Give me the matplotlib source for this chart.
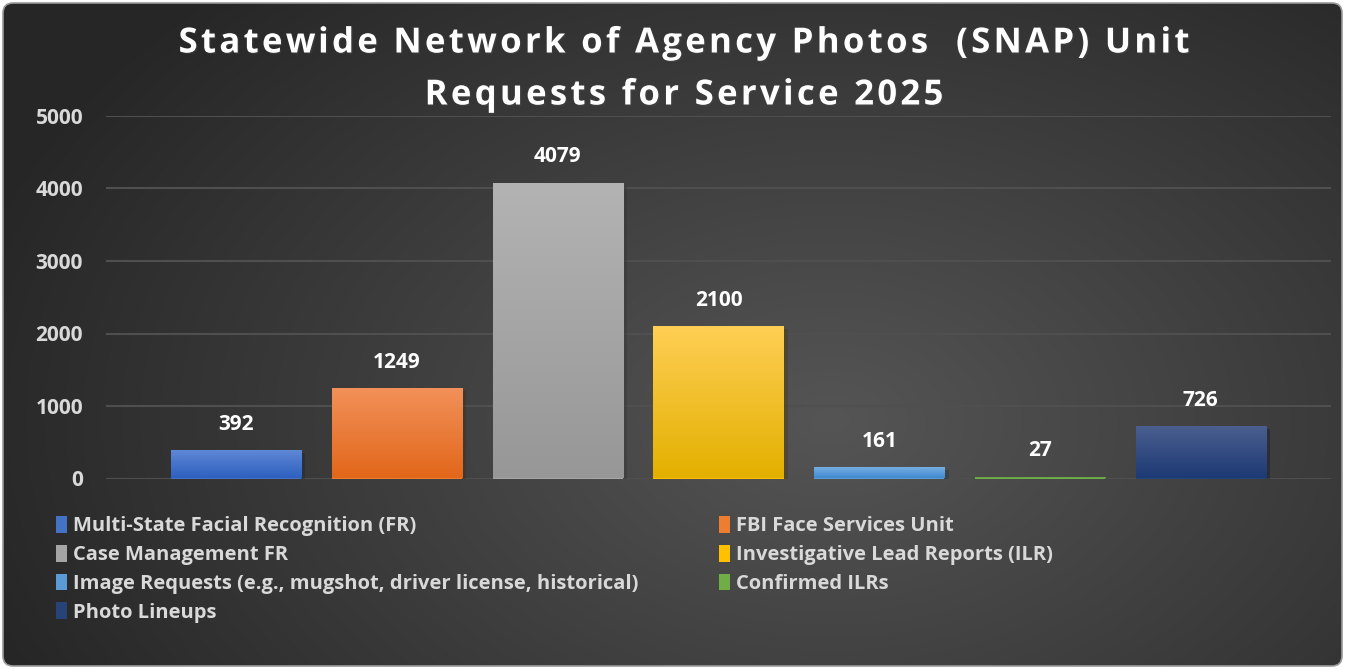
import numpy as np
import matplotlib
matplotlib.use('Agg')
import matplotlib.pyplot as plt
import matplotlib.patheffects as pe
from matplotlib.patches import Patch, FancyBboxPatch
from matplotlib.colors import to_rgb
from matplotlib.font_manager import FontProperties
from matplotlib.textpath import TextToPath

# Data
categories = ['Multi-State Facial Recognition (FR)', 'FBI Face Services Unit',
              'Case Management FR', 'Investigative Lead Reports (ILR)',
              'Image Requests (e.g., mugshot, driver license, historical)',
              'Confirmed ILRs', 'Photo Lineups']
values = [392, 1249, 4079, 2100, 161, 27, 726]
yticks = [0, 1000, 2000, 3000, 4000, 5000]
title_lines = ['Statewide Network of Agency Photos  (SNAP) Unit', 'Requests for Service 2025']

# top / bottom colour of each bar gradient
top_colors = ['#6189d6', '#f2915a', '#b3b3b3', '#ffcf55', '#7ab2e3', '#86bf5e', '#4b5f90']
bottom_colors = ['#2d60bf', '#e2671a', '#979797', '#e3b000', '#3f8ad0', '#5f9f36', '#1d3a74']
legend_colors = ['#4472c4', '#ed7d31', '#a5a5a5', '#ffc000', '#5b9bd5', '#70ad47', '#264478']

plt.rcParams['font.family'] = ['Open Sans', 'DejaVu Sans']

W, H = 1345, 669
fig = plt.figure(figsize=(W / 100, H / 100), dpi=100)
fig.patch.set_facecolor('white')

# background with radial gradient, rounded frame
bg = fig.add_axes([0, 0, 1, 1], zorder=0)
bg.set_xlim(0, W)
bg.set_ylim(H, 0)
bg.axis('off')
yy, xx = np.mgrid[0:H, 0:W]
r = np.sqrt(((xx - 830) / 900.0) ** 2 + ((yy - 420) / 600.0) ** 2)
r = np.clip(r, 0, 1)
inner = np.array(to_rgb('#555555'))
outer = np.array(to_rgb('#262626'))
img = inner[None, None, :] * (1 - r[..., None]) + outer[None, None, :] * r[..., None]
frame = FancyBboxPatch((3, 3), W - 6, H - 6, boxstyle='round,pad=0,rounding_size=10',
                       facecolor='none', edgecolor='#9a9a9a', linewidth=1.2)
bg.add_patch(frame)
im = bg.imshow(img, extent=[0, W, H, 0], aspect='auto', zorder=0)
im.set_clip_path(frame)


# title with letter spacing, drawn char by char
def spaced_text(s, xc, yc, size, track):
    prop = FontProperties(family='Open Sans', weight='bold', size=size)
    ttp = TextToPath()
    px = 100 / 72.0
    adv = [ttp.get_text_width_height_descent(s[:i], prop, ismath=False)[0] * px if i else 0
           for i in range(len(s) + 1)]
    total = adv[-1] + track * (len(s) - 1)
    x0 = xc - total / 2
    for i, ch in enumerate(s):
        if ch == ' ':
            continue
        bg.text(x0 + adv[i] + track * i, yc, ch, fontproperties=prop, color='white',
                ha='left', va='center_baseline', zorder=5,
                path_effects=[pe.withSimplePatchShadow(offset=(1, -1), alpha=0.35)])


spaced_text(title_lines[0], 684, 39, 25, 3.3)
spaced_text(title_lines[1], 684, 91, 25, 3.3)

ax = fig.add_axes([106 / W, 1 - 478.5 / H, (1331 - 106) / W, (478.5 - 116) / H], zorder=2)
ax.patch.set_alpha(0)

x = np.arange(len(values))
bars = ax.bar(x, values, width=0.81, color=legend_colors, zorder=3)
for b, c1, c2 in zip(bars, top_colors, bottom_colors):
    b.set_path_effects([pe.SimplePatchShadow(offset=(3, -2), alpha=0.35), pe.Normal()])
    grad = np.linspace(0, 1, 100)[:, None, None]
    cg = np.array(to_rgb(c1)) * (1 - grad) + np.array(to_rgb(c2)) * grad
    x0 = b.get_x()
    gi = ax.imshow(cg, extent=[x0, x0 + b.get_width(), 0, b.get_height()],
                   aspect='auto', zorder=4, origin='upper')
    gi.set_clip_path(b)
    ax.annotate(str(int(b.get_height())), (x0 + b.get_width() / 2, b.get_height()),
                xytext=(0, 11), textcoords='offset points', ha='center', va='bottom',
                color='white', fontsize=15, fontweight='bold', zorder=6)

ax.set_xlim(-0.81, 6.81)
ax.set_ylim(0, 5000)
ax.set_yticks(yticks)
ax.set_yticklabels([str(t) for t in yticks])
ax.set_xticks([])
ax.tick_params(axis='y', length=0, pad=16.5, labelsize=15, labelcolor='#d9d9d9')
for lab in ax.get_yticklabels():
    lab.set_fontweight('bold')
ax.grid(axis='y', color='#4f4f4f', linewidth=1.5, zorder=0)
for s in ax.spines.values():
    s.set_visible(False)

# legend, row by row in two columns
handles = [Patch(facecolor=c, edgecolor='none') for c in legend_colors]
order = [0, 2, 4, 6, 1, 3, 5]
leg = fig.legend([handles[i] for i in order], [categories[i] for i in order],
                 loc='upper left', bbox_to_anchor=(38 / W, 1 - 498 / H), ncol=2,
                 frameon=False, fontsize=14.5, handlelength=0.55, handleheight=0.9,
                 handletextpad=0.3, columnspacing=4.0, labelspacing=0.42)
for t in leg.get_texts():
    t.set_color('#d9d9d9')
    t.set_fontweight('bold')

fig.savefig('out.png', dpi=100, facecolor=fig.get_facecolor())
